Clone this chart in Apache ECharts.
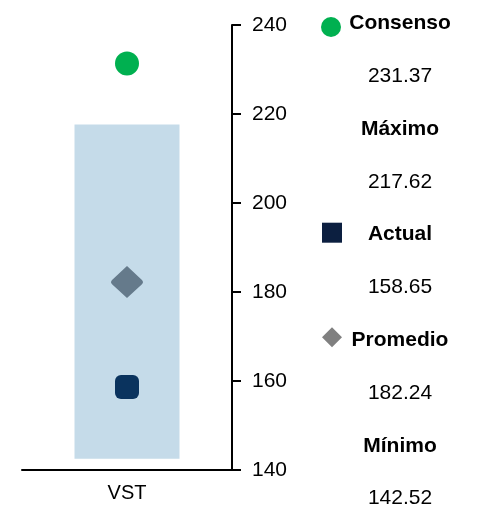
<!DOCTYPE html>
<html>
<head>
<meta charset="utf-8">
<script src="https://cdn.jsdelivr.net/npm/echarts@6/dist/echarts.min.js"></script>
<style>
    html, body { margin: 0; padding: 0; background: #fff; }
    #chart { width: 490px; height: 508px; }
</style>
</head>
<body>
<div id="chart"></div>
<script>
    // datos
    var categories = ['VST'];
    var consenso = [231.37];
    var maximo = [217.62];
    var actual = [158.65];
    var promedio = [182.24];
    var minimo = [142.52];
    var yTicks = [140, 160, 180, 200, 220, 240];

    var legendItems = [
        { name: 'Consenso', value: consenso[0], icon: 'circle', color: '#00B050' },
        { name: 'Máximo', value: maximo[0], icon: null },
        { name: 'Actual', value: actual[0], icon: 'square', color: '#0C1F40' },
        { name: 'Promedio', value: promedio[0], icon: 'diamond', color: '#808080' },
        { name: 'Mínimo', value: minimo[0], icon: null }
    ];

    var font = 'Liberation Sans, Arial, sans-serif';

    // leyenda a la derecha (texto + iconos)
    var graphics = [];
    var rowStep = 52.8;
    legendItems.forEach(function (item, i) {
        var yName = 23.5 + rowStep * 2 * i;
        var yVal = yName + rowStep;
        graphics.push({
            type: 'text', x: 400, y: yName,
            style: { text: item.name, font: 'bold 21px ' + font, fill: '#000', align: 'center', verticalAlign: 'middle' }
        });
        graphics.push({
            type: 'text', x: 400, y: yVal,
            style: { text: item.value.toFixed(2), font: '21px ' + font, fill: '#000', align: 'center', verticalAlign: 'middle' }
        });
        if (item.icon === 'circle') {
            graphics.push({ type: 'circle', shape: { cx: 331, cy: yName + 3.5, r: 10 }, style: { fill: item.color } });
        } else if (item.icon === 'square') {
            graphics.push({ type: 'rect', shape: { x: 322, y: yName - 12, width: 20, height: 20 }, style: { fill: item.color } });
        } else if (item.icon === 'diamond') {
            graphics.push({ type: 'polygon', shape: { points: [[332, yName - 13], [342, yName - 3], [332, yName + 7], [322, yName - 3]] }, style: { fill: item.color } });
        }
    });

    var myChart = echarts.init(document.getElementById('chart'));
    var option = {
        animation: false,
        grid: { left: 22, right: 258, top: 25, bottom: 38 },
        xAxis: {
            type: 'category',
            data: categories,
            axisTick: { show: false },
            axisLine: { lineStyle: { color: '#000', width: 2 } },
            axisLabel: { color: '#000', fontSize: 20, fontFamily: font, margin: 13 }
        },
        yAxis: {
            type: 'value',
            position: 'right',
            min: yTicks[0],
            max: yTicks[yTicks.length - 1],
            interval: 20,
            splitLine: { show: false },
            axisLine: { show: true, lineStyle: { color: '#000', width: 2 } },
            axisTick: { show: true, length: 9, lineStyle: { color: '#000', width: 2 } },
            axisLabel: { color: '#000', fontSize: 21, fontFamily: font, margin: 20 }
        },
        series: [
            {
                name: 'base',
                type: 'bar',
                stack: 'rango',
                barWidth: '50%',
                itemStyle: { color: 'transparent' },
                data: minimo
            },
            {
                name: 'rango',
                type: 'bar',
                stack: 'rango',
                barWidth: '50%',
                itemStyle: { color: '#C5DBE9' },
                data: maximo.map(function (v, i) { return v - minimo[i]; })
            },
            {
                name: 'Consenso',
                type: 'scatter',
                symbol: 'circle',
                symbolSize: 24,
                itemStyle: { color: '#00B050', opacity: 1 },
                data: consenso
            },
            {
                name: 'Promedio',
                type: 'scatter',
                symbol: 'path://M0,-10 L8.5,-1.5 Q10,0 8.5,1.5 L0,10 L-8.5,1.5 Q-10,0 -8.5,-1.5 Z',
                symbolSize: 32,
                itemStyle: { color: '#657A8B', opacity: 1 },
                data: promedio
            },
            {
                name: 'Actual',
                type: 'scatter',
                symbol: 'roundRect',
                symbolSize: 24,
                itemStyle: { color: '#0A335E', opacity: 1 },
                data: actual
            }
        ],
        graphic: graphics
    };
    myChart.setOption(option);
</script>
</body>
</html>
